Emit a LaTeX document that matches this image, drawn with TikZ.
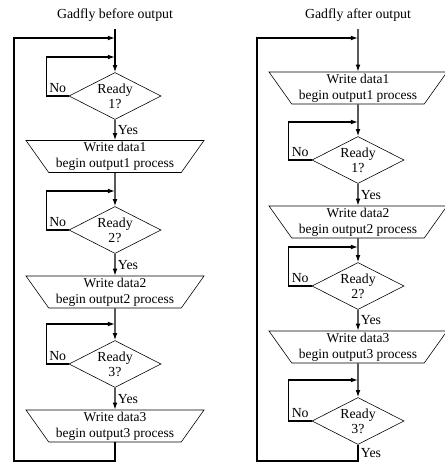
\documentclass[tikz,border=0pt]{standalone}
\usepackage{fontspec}
\setmainfont{Liberation Serif}
\usetikzlibrary{arrows.meta,shapes.geometric}

\begin{document}
\begin{tikzpicture}[
    x=0.3mm,
    y=-0.3mm,
    font=\fontsize{11.8}{14.5}\selectfont,
    >={Latex[length=6pt,width=4pt]},
    poll/.style={
        draw,
        diamond,
        aspect=2,
        line width=0.5pt,
        minimum width=27.6mm,
        minimum height=14.1mm,
        inner sep=0pt,
        align=center,
        font=\fontsize{11.8}{12.5}\selectfont
    },
    write/.style={
        draw,
        trapezium,
        shape border rotate=180,
        trapezium left angle=51,
        trapezium right angle=51,
        trapezium stretches body,
        line width=0.5pt,
        minimum width=53.4mm,
        minimum height=9.6mm,
        inner xsep=0.5pt,
        inner ysep=0pt,
        align=center,
        font=\fontsize{11.5}{13.5}\selectfont
    },
    flow/.style={
        ->,
        line width=1pt
    },
    lab/.style={
        inner sep=2pt
    }
]
\useasboundingbox (0,0) rectangle (445,463);

% Left chart --- poll first, then write
\node (titleL) at (115,15) {Gadfly before output};
\coordinate (startL) at (115,29);
\coordinate (jL0) at (115,38);
\coordinate (jL1) at (115,57);
\coordinate (jL2) at (115,191);
\coordinate (jL3) at (115,324);
\coordinate (cornerL) at (14,461);

\node[poll]  (dL1) at (115,96)  {Ready\\1?};
\node[write] (tL1) at (115,156.5) {Write data1\\begin output1 process};
\node[poll]  (dL2) at (115,230) {Ready\\2?};
\node[write] (tL2) at (115,292) {Write data2\\begin output2 process};
\node[poll]  (dL3) at (115,364) {Ready\\3?};
\node[write] (tL3) at (115,426) {Write data3\\begin output3 process};

\draw[flow] (startL) -- (dL1);
\draw[flow] (dL1) -- node[lab, right] {Yes} (tL1);
\draw[flow] (tL1) -- (dL2);
\draw[flow] (dL2) -- node[lab, right] {Yes} (tL2);
\draw[flow] (tL2) -- (dL3);
\draw[flow] (dL3) -- node[lab, right] {Yes} (tL3);

\draw[flow] (dL1.west) -- node[lab, above] {No} ++(-22,0) |- (jL1);
\draw[flow] (dL2.west) -- node[lab, above] {No} ++(-22,0) |- (jL2);
\draw[flow] (dL3.west) -- node[lab, above] {No} ++(-22,0) |- (jL3);

\draw[flow] (tL3) |- (cornerL) |- (jL0);


% Right chart --- write first, then poll
\node (titleR) at (358,15) {Gadfly after output};
\coordinate (startR) at (358,29);
\coordinate (jR0) at (358,38);
\coordinate (jR1) at (358,122);
\coordinate (jR2) at (358,247);
\coordinate (jR3) at (358,380);
\coordinate (cornerR) at (257,461);

\node[write] (tR1) at (358,88)  {Write data1\\begin output1 process};
\node[poll]  (dR1) at (358,160) {Ready\\1?};
\node[write] (tR2) at (358,222) {Write data2\\begin output2 process};
\node[poll]  (dR2) at (358,286) {Ready\\2?};
\node[write] (tR3) at (358,347) {Write data3\\begin output3 process};
\node[poll]  (dR3) at (358,421) {Ready\\3?};

\draw[flow] (startR) -- (tR1);
\draw[flow] (tR1) -- (dR1);
\draw[flow] (dR1) -- node[lab, right] {Yes} (tR2);
\draw[flow] (tR2) -- (dR2);
\draw[flow] (dR2) -- node[lab, right] {Yes} (tR3);
\draw[flow] (tR3) -- (dR3);

\draw[flow] (dR1.west) -- node[lab, above] {No} ++(-23,0) |- (jR1);
\draw[flow] (dR2.west) -- node[lab, above] {No} ++(-23,0) |- (jR2);
\draw[flow] (dR3.west) -- node[lab, above] {No} ++(-23,0) |- (jR3);

\draw[flow] (dR3) |- node[lab, right, pos=0.25] {Yes} (cornerR) |- (jR0);

\end{tikzpicture}
\end{document}
